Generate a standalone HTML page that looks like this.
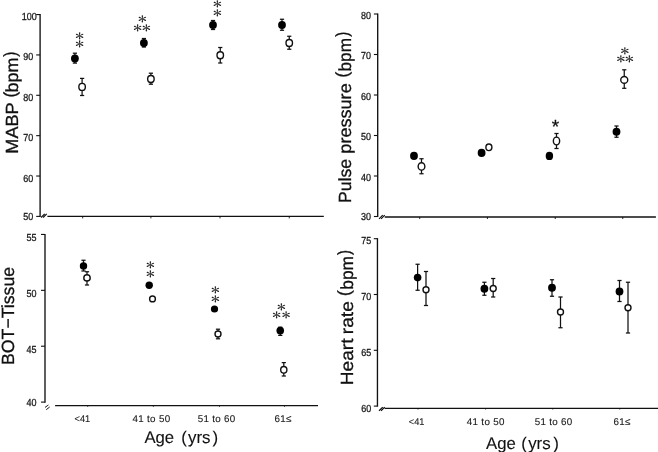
<!DOCTYPE html>
<html><head><meta charset="utf-8"><title>Figure</title>
<style>
html,body{margin:0;padding:0;background:#fff;}
svg{display:block}
text{text-rendering:geometricPrecision}
.t{font-family:"Liberation Sans","IPAGothic",sans-serif;fill:#111;stroke:#111;stroke-width:0.3px}
.n{font-family:"Liberation Sans","IPAGothic",sans-serif;fill:#1a1a1a;stroke:#1a1a1a;stroke-width:0.3px}
.a{font-family:"Liberation Sans","IPAGothic",sans-serif;fill:#111;stroke:#111;stroke-width:0.1px}
.x{font-family:"Liberation Sans","IPAGothic",sans-serif;fill:#1a1a1a;stroke:#1a1a1a;stroke-width:0.12px}
.s{font-family:"IPAGothic","Noto Sans CJK JP",sans-serif;fill:#222}
</style></head><body>
<svg width="658" height="452" viewBox="0 0 658 452">
<rect width="658" height="452" fill="#fff"/>
<line x1="40.10" y1="14.01" x2="40.10" y2="216.95" stroke="#111" stroke-width="1.35" stroke-linecap="butt"/>
<line x1="36.20" y1="14.56" x2="40.10" y2="14.56" stroke="#111" stroke-width="1.1" stroke-linecap="butt"/>
<text x="21.80" y="20.10" font-size="10.2" class="n" textLength="15.00" lengthAdjust="spacingAndGlyphs">100</text>
<line x1="36.20" y1="54.93" x2="40.10" y2="54.93" stroke="#111" stroke-width="1.1" stroke-linecap="butt"/>
<text x="23.30" y="60.05" font-size="10.2" class="n" textLength="10.00" lengthAdjust="spacingAndGlyphs">90</text>
<line x1="36.20" y1="95.30" x2="40.10" y2="95.30" stroke="#111" stroke-width="1.1" stroke-linecap="butt"/>
<text x="23.30" y="101.35" font-size="10.2" class="n" textLength="10.00" lengthAdjust="spacingAndGlyphs">80</text>
<line x1="36.20" y1="135.66" x2="40.10" y2="135.66" stroke="#111" stroke-width="1.1" stroke-linecap="butt"/>
<text x="23.30" y="141.25" font-size="10.2" class="n" textLength="10.00" lengthAdjust="spacingAndGlyphs">70</text>
<line x1="36.20" y1="176.03" x2="40.10" y2="176.03" stroke="#111" stroke-width="1.1" stroke-linecap="butt"/>
<text x="23.30" y="182.15" font-size="10.2" class="n" textLength="10.00" lengthAdjust="spacingAndGlyphs">60</text>
<line x1="36.20" y1="216.40" x2="40.10" y2="216.40" stroke="#111" stroke-width="1.1" stroke-linecap="butt"/>
<text x="23.30" y="219.65" font-size="10.2" class="n" textLength="10.00" lengthAdjust="spacingAndGlyphs">50</text>
<line x1="47.40" y1="216.40" x2="323.80" y2="216.40" stroke="#111" stroke-width="1.35" stroke-linecap="butt"/>
<line x1="82.70" y1="216.40" x2="82.70" y2="218.40" stroke="#111" stroke-width="0.9" stroke-linecap="butt"/>
<line x1="150.90" y1="216.40" x2="150.90" y2="218.40" stroke="#111" stroke-width="0.9" stroke-linecap="butt"/>
<line x1="220.00" y1="216.40" x2="220.00" y2="218.40" stroke="#111" stroke-width="0.9" stroke-linecap="butt"/>
<line x1="289.25" y1="216.40" x2="289.25" y2="218.40" stroke="#111" stroke-width="0.9" stroke-linecap="butt"/>
<line x1="41.06" y1="217.54" x2="44.74" y2="213.86" stroke="#111" stroke-width="1.2" stroke-linecap="butt"/>
<line x1="43.06" y1="217.54" x2="46.74" y2="213.86" stroke="#111" stroke-width="1.2" stroke-linecap="butt"/>
<line x1="74.90" y1="53.20" x2="74.90" y2="63.10" stroke="#111" stroke-width="1.25" stroke-linecap="butt"/>
<line x1="72.80" y1="53.20" x2="77.00" y2="53.20" stroke="#111" stroke-width="1.25" stroke-linecap="butt"/>
<line x1="72.80" y1="63.10" x2="77.00" y2="63.10" stroke="#111" stroke-width="1.25" stroke-linecap="butt"/>
<ellipse cx="74.90" cy="58.50" rx="3.9" ry="4.05" fill="#000"/>
<line x1="82.10" y1="78.40" x2="82.10" y2="95.50" stroke="#111" stroke-width="1.25" stroke-linecap="butt"/>
<line x1="80.00" y1="78.40" x2="84.20" y2="78.40" stroke="#111" stroke-width="1.25" stroke-linecap="butt"/>
<line x1="80.00" y1="95.50" x2="84.20" y2="95.50" stroke="#111" stroke-width="1.25" stroke-linecap="butt"/>
<ellipse cx="82.10" cy="86.90" rx="3.25" ry="3.5" fill="#fff" stroke="#111" stroke-width="1.4"/>
<text transform="translate(79.70,36.25) scale(1.16,1)" font-size="11.0" text-anchor="middle" dominant-baseline="central" class="s">＊</text>
<text transform="translate(79.70,44.95) scale(1.16,1)" font-size="11.0" text-anchor="middle" dominant-baseline="central" class="s">＊</text>
<line x1="143.90" y1="38.50" x2="143.90" y2="47.00" stroke="#111" stroke-width="1.25" stroke-linecap="butt"/>
<line x1="141.80" y1="38.50" x2="146.00" y2="38.50" stroke="#111" stroke-width="1.25" stroke-linecap="butt"/>
<line x1="141.80" y1="47.00" x2="146.00" y2="47.00" stroke="#111" stroke-width="1.25" stroke-linecap="butt"/>
<ellipse cx="143.90" cy="43.10" rx="3.9" ry="4.05" fill="#000"/>
<line x1="150.90" y1="73.20" x2="150.90" y2="84.20" stroke="#111" stroke-width="1.25" stroke-linecap="butt"/>
<line x1="148.80" y1="73.20" x2="153.00" y2="73.20" stroke="#111" stroke-width="1.25" stroke-linecap="butt"/>
<line x1="148.80" y1="84.20" x2="153.00" y2="84.20" stroke="#111" stroke-width="1.25" stroke-linecap="butt"/>
<ellipse cx="150.90" cy="79.00" rx="3.25" ry="3.5" fill="#fff" stroke="#111" stroke-width="1.4"/>
<text transform="translate(142.30,19.75) scale(1.16,1)" font-size="11.0" text-anchor="middle" dominant-baseline="central" class="s">＊</text>
<text transform="translate(137.70,28.05) scale(1.16,1)" font-size="11.0" text-anchor="middle" dominant-baseline="central" class="s">＊</text>
<text transform="translate(146.50,28.05) scale(1.16,1)" font-size="11.0" text-anchor="middle" dominant-baseline="central" class="s">＊</text>
<line x1="213.00" y1="20.50" x2="213.00" y2="29.50" stroke="#111" stroke-width="1.25" stroke-linecap="butt"/>
<line x1="210.90" y1="20.50" x2="215.10" y2="20.50" stroke="#111" stroke-width="1.25" stroke-linecap="butt"/>
<line x1="210.90" y1="29.50" x2="215.10" y2="29.50" stroke="#111" stroke-width="1.25" stroke-linecap="butt"/>
<ellipse cx="213.00" cy="25.00" rx="3.9" ry="4.05" fill="#000"/>
<line x1="220.25" y1="47.50" x2="220.25" y2="63.00" stroke="#111" stroke-width="1.25" stroke-linecap="butt"/>
<line x1="218.15" y1="47.50" x2="222.35" y2="47.50" stroke="#111" stroke-width="1.25" stroke-linecap="butt"/>
<line x1="218.15" y1="63.00" x2="222.35" y2="63.00" stroke="#111" stroke-width="1.25" stroke-linecap="butt"/>
<ellipse cx="220.25" cy="55.25" rx="3.25" ry="3.5" fill="#fff" stroke="#111" stroke-width="1.4"/>
<text transform="translate(217.40,4.40) scale(1.16,1)" font-size="11.0" text-anchor="middle" dominant-baseline="central" class="s">＊</text>
<text transform="translate(217.40,13.35) scale(1.16,1)" font-size="11.0" text-anchor="middle" dominant-baseline="central" class="s">＊</text>
<line x1="282.00" y1="19.25" x2="282.00" y2="30.25" stroke="#111" stroke-width="1.25" stroke-linecap="butt"/>
<line x1="279.90" y1="19.25" x2="284.10" y2="19.25" stroke="#111" stroke-width="1.25" stroke-linecap="butt"/>
<line x1="279.90" y1="30.25" x2="284.10" y2="30.25" stroke="#111" stroke-width="1.25" stroke-linecap="butt"/>
<ellipse cx="282.00" cy="25.00" rx="3.9" ry="4.05" fill="#000"/>
<line x1="289.25" y1="36.25" x2="289.25" y2="49.25" stroke="#111" stroke-width="1.25" stroke-linecap="butt"/>
<line x1="287.15" y1="36.25" x2="291.35" y2="36.25" stroke="#111" stroke-width="1.25" stroke-linecap="butt"/>
<line x1="287.15" y1="49.25" x2="291.35" y2="49.25" stroke="#111" stroke-width="1.25" stroke-linecap="butt"/>
<ellipse cx="289.25" cy="43.00" rx="3.25" ry="3.5" fill="#fff" stroke="#111" stroke-width="1.4"/>
<line x1="377.70" y1="13.45" x2="377.70" y2="217.05" stroke="#111" stroke-width="1.35" stroke-linecap="butt"/>
<line x1="373.90" y1="14.00" x2="377.70" y2="14.00" stroke="#111" stroke-width="1.1" stroke-linecap="butt"/>
<text x="361.00" y="19.05" font-size="10.2" class="n" textLength="10.00" lengthAdjust="spacingAndGlyphs">80</text>
<line x1="373.90" y1="54.50" x2="377.70" y2="54.50" stroke="#111" stroke-width="1.1" stroke-linecap="butt"/>
<text x="361.00" y="59.05" font-size="10.2" class="n" textLength="10.00" lengthAdjust="spacingAndGlyphs">70</text>
<line x1="373.90" y1="95.00" x2="377.70" y2="95.00" stroke="#111" stroke-width="1.1" stroke-linecap="butt"/>
<text x="361.00" y="99.95" font-size="10.2" class="n" textLength="10.00" lengthAdjust="spacingAndGlyphs">60</text>
<line x1="373.90" y1="135.50" x2="377.70" y2="135.50" stroke="#111" stroke-width="1.1" stroke-linecap="butt"/>
<text x="361.00" y="140.15" font-size="10.2" class="n" textLength="10.00" lengthAdjust="spacingAndGlyphs">50</text>
<line x1="373.90" y1="176.00" x2="377.70" y2="176.00" stroke="#111" stroke-width="1.1" stroke-linecap="butt"/>
<text x="361.00" y="181.05" font-size="10.2" class="n" textLength="10.00" lengthAdjust="spacingAndGlyphs">40</text>
<line x1="373.90" y1="216.50" x2="377.70" y2="216.50" stroke="#111" stroke-width="1.1" stroke-linecap="butt"/>
<text x="361.00" y="219.50" font-size="10.2" class="n" textLength="10.00" lengthAdjust="spacingAndGlyphs">30</text>
<line x1="384.70" y1="217.00" x2="655.90" y2="217.00" stroke="#111" stroke-width="1.35" stroke-linecap="butt"/>
<line x1="419.70" y1="217.00" x2="419.70" y2="219.00" stroke="#111" stroke-width="0.9" stroke-linecap="butt"/>
<line x1="487.40" y1="217.00" x2="487.40" y2="219.00" stroke="#111" stroke-width="0.9" stroke-linecap="butt"/>
<line x1="555.25" y1="217.00" x2="555.25" y2="219.00" stroke="#111" stroke-width="0.9" stroke-linecap="butt"/>
<line x1="622.75" y1="217.00" x2="622.75" y2="219.00" stroke="#111" stroke-width="0.9" stroke-linecap="butt"/>
<line x1="379.06" y1="218.84" x2="382.74" y2="215.16" stroke="#111" stroke-width="1.2" stroke-linecap="butt"/>
<line x1="381.06" y1="218.84" x2="384.74" y2="215.16" stroke="#111" stroke-width="1.2" stroke-linecap="butt"/>
<ellipse cx="414.00" cy="155.90" rx="3.9" ry="4.05" fill="#000"/>
<line x1="421.50" y1="158.75" x2="421.50" y2="173.75" stroke="#111" stroke-width="1.25" stroke-linecap="butt"/>
<line x1="419.40" y1="158.75" x2="423.60" y2="158.75" stroke="#111" stroke-width="1.25" stroke-linecap="butt"/>
<line x1="419.40" y1="173.75" x2="423.60" y2="173.75" stroke="#111" stroke-width="1.25" stroke-linecap="butt"/>
<ellipse cx="421.50" cy="166.40" rx="3.35" ry="3.7" fill="#fff" stroke="#111" stroke-width="1.4"/>
<ellipse cx="481.60" cy="152.90" rx="3.9" ry="4.05" fill="#000"/>
<ellipse cx="488.90" cy="147.30" rx="3.0" ry="3.3" fill="#fff" stroke="#111" stroke-width="1.4"/>
<ellipse cx="549.40" cy="155.90" rx="3.7" ry="4.2" fill="#000"/>
<line x1="556.50" y1="133.50" x2="556.50" y2="148.50" stroke="#111" stroke-width="1.25" stroke-linecap="butt"/>
<line x1="554.40" y1="133.50" x2="558.60" y2="133.50" stroke="#111" stroke-width="1.25" stroke-linecap="butt"/>
<line x1="554.40" y1="148.50" x2="558.60" y2="148.50" stroke="#111" stroke-width="1.25" stroke-linecap="butt"/>
<ellipse cx="556.50" cy="141.00" rx="3.15" ry="3.85" fill="#fff" stroke="#111" stroke-width="1.4"/>
<text x="555.50" y="133.20" font-size="19" text-anchor="middle" class="t" >*</text>
<line x1="616.50" y1="126.00" x2="616.50" y2="137.25" stroke="#111" stroke-width="1.25" stroke-linecap="butt"/>
<line x1="614.40" y1="126.00" x2="618.60" y2="126.00" stroke="#111" stroke-width="1.25" stroke-linecap="butt"/>
<line x1="614.40" y1="137.25" x2="618.60" y2="137.25" stroke="#111" stroke-width="1.25" stroke-linecap="butt"/>
<ellipse cx="616.50" cy="131.75" rx="3.9" ry="4.05" fill="#000"/>
<line x1="624.25" y1="69.80" x2="624.25" y2="88.30" stroke="#111" stroke-width="1.25" stroke-linecap="butt"/>
<line x1="622.15" y1="69.80" x2="626.35" y2="69.80" stroke="#111" stroke-width="1.25" stroke-linecap="butt"/>
<line x1="622.15" y1="88.30" x2="626.35" y2="88.30" stroke="#111" stroke-width="1.25" stroke-linecap="butt"/>
<ellipse cx="624.25" cy="79.90" rx="3.5" ry="3.4" fill="#fff" stroke="#111" stroke-width="1.4"/>
<text transform="translate(625.00,51.15) scale(1.16,1)" font-size="11.0" text-anchor="middle" dominant-baseline="central" class="s">＊</text>
<text transform="translate(621.00,59.75) scale(1.16,1)" font-size="11.0" text-anchor="middle" dominant-baseline="central" class="s">＊</text>
<text transform="translate(629.50,59.75) scale(1.16,1)" font-size="11.0" text-anchor="middle" dominant-baseline="central" class="s">＊</text>
<line x1="45.00" y1="233.89" x2="45.00" y2="402.65" stroke="#111" stroke-width="1.35" stroke-linecap="butt"/>
<line x1="41.00" y1="234.44" x2="45.00" y2="234.44" stroke="#111" stroke-width="1.1" stroke-linecap="butt"/>
<text x="26.50" y="240.60" font-size="10.2" class="n" textLength="10.00" lengthAdjust="spacingAndGlyphs">55</text>
<line x1="41.00" y1="290.33" x2="45.00" y2="290.33" stroke="#111" stroke-width="1.1" stroke-linecap="butt"/>
<text x="26.50" y="297.15" font-size="10.2" class="n" textLength="10.00" lengthAdjust="spacingAndGlyphs">50</text>
<line x1="41.00" y1="346.21" x2="45.00" y2="346.21" stroke="#111" stroke-width="1.1" stroke-linecap="butt"/>
<text x="26.50" y="353.05" font-size="10.2" class="n" textLength="10.00" lengthAdjust="spacingAndGlyphs">45</text>
<line x1="41.00" y1="402.10" x2="45.00" y2="402.10" stroke="#111" stroke-width="1.1" stroke-linecap="butt"/>
<text x="26.50" y="405.85" font-size="10.2" class="n" textLength="10.00" lengthAdjust="spacingAndGlyphs">40</text>
<line x1="55.10" y1="405.55" x2="318.00" y2="405.55" stroke="#111" stroke-width="1.35" stroke-linecap="butt"/>
<line x1="87.70" y1="405.55" x2="87.70" y2="406.75" stroke="#111" stroke-width="0.9" stroke-linecap="butt"/>
<line x1="153.40" y1="405.55" x2="153.40" y2="406.75" stroke="#111" stroke-width="0.9" stroke-linecap="butt"/>
<line x1="219.50" y1="405.55" x2="219.50" y2="406.75" stroke="#111" stroke-width="0.9" stroke-linecap="butt"/>
<line x1="284.50" y1="405.55" x2="284.50" y2="406.75" stroke="#111" stroke-width="0.9" stroke-linecap="butt"/>
<line x1="45.00" y1="407.40" x2="48.40" y2="405.00" stroke="#111" stroke-width="0.95" stroke-linecap="butt"/>
<line x1="46.20" y1="409.70" x2="49.70" y2="407.00" stroke="#111" stroke-width="0.95" stroke-linecap="butt"/>
<line x1="83.50" y1="260.25" x2="83.50" y2="271.00" stroke="#111" stroke-width="1.25" stroke-linecap="butt"/>
<line x1="81.40" y1="260.25" x2="85.60" y2="260.25" stroke="#111" stroke-width="1.25" stroke-linecap="butt"/>
<line x1="81.40" y1="271.00" x2="85.60" y2="271.00" stroke="#111" stroke-width="1.25" stroke-linecap="butt"/>
<ellipse cx="83.50" cy="266.10" rx="3.7" ry="3.75" fill="#000"/>
<line x1="87.00" y1="271.75" x2="87.00" y2="285.00" stroke="#111" stroke-width="1.25" stroke-linecap="butt"/>
<line x1="84.90" y1="271.75" x2="89.10" y2="271.75" stroke="#111" stroke-width="1.25" stroke-linecap="butt"/>
<line x1="84.90" y1="285.00" x2="89.10" y2="285.00" stroke="#111" stroke-width="1.25" stroke-linecap="butt"/>
<ellipse cx="87.00" cy="277.90" rx="3.2" ry="3.1" fill="#fff" stroke="#111" stroke-width="1.4"/>
<ellipse cx="149.20" cy="285.20" rx="3.7" ry="3.7" fill="#000"/>
<ellipse cx="152.50" cy="298.90" rx="2.9" ry="2.9" fill="#fff" stroke="#111" stroke-width="1.4"/>
<text transform="translate(150.50,265.25) scale(1.16,1)" font-size="11.0" text-anchor="middle" dominant-baseline="central" class="s">＊</text>
<text transform="translate(150.50,274.25) scale(1.16,1)" font-size="11.0" text-anchor="middle" dominant-baseline="central" class="s">＊</text>
<ellipse cx="214.50" cy="309.00" rx="3.6" ry="3.6" fill="#000"/>
<line x1="218.00" y1="329.20" x2="218.00" y2="338.80" stroke="#111" stroke-width="1.25" stroke-linecap="butt"/>
<line x1="215.90" y1="329.20" x2="220.10" y2="329.20" stroke="#111" stroke-width="1.25" stroke-linecap="butt"/>
<line x1="215.90" y1="338.80" x2="220.10" y2="338.80" stroke="#111" stroke-width="1.25" stroke-linecap="butt"/>
<ellipse cx="218.00" cy="334.00" rx="3.0" ry="3.0" fill="#fff" stroke="#111" stroke-width="1.4"/>
<text transform="translate(215.40,290.45) scale(1.16,1)" font-size="11.0" text-anchor="middle" dominant-baseline="central" class="s">＊</text>
<text transform="translate(215.40,299.45) scale(1.16,1)" font-size="11.0" text-anchor="middle" dominant-baseline="central" class="s">＊</text>
<line x1="280.25" y1="327.20" x2="280.25" y2="335.40" stroke="#111" stroke-width="1.25" stroke-linecap="butt"/>
<line x1="278.15" y1="327.20" x2="282.35" y2="327.20" stroke="#111" stroke-width="1.25" stroke-linecap="butt"/>
<line x1="278.15" y1="335.40" x2="282.35" y2="335.40" stroke="#111" stroke-width="1.25" stroke-linecap="butt"/>
<ellipse cx="280.25" cy="330.60" rx="3.8" ry="3.9" fill="#000"/>
<line x1="283.80" y1="362.60" x2="283.80" y2="376.00" stroke="#111" stroke-width="1.25" stroke-linecap="butt"/>
<line x1="281.70" y1="362.60" x2="285.90" y2="362.60" stroke="#111" stroke-width="1.25" stroke-linecap="butt"/>
<line x1="281.70" y1="376.00" x2="285.90" y2="376.00" stroke="#111" stroke-width="1.25" stroke-linecap="butt"/>
<ellipse cx="283.80" cy="369.80" rx="3.1" ry="3.3" fill="#fff" stroke="#111" stroke-width="1.4"/>
<text transform="translate(281.40,307.20) scale(1.16,1)" font-size="11.0" text-anchor="middle" dominant-baseline="central" class="s">＊</text>
<text transform="translate(276.65,315.70) scale(1.16,1)" font-size="11.0" text-anchor="middle" dominant-baseline="central" class="s">＊</text>
<text transform="translate(286.15,315.70) scale(1.16,1)" font-size="11.0" text-anchor="middle" dominant-baseline="central" class="s">＊</text>
<text transform="translate(74.55,422.00) scale(1,1)" font-size="9.8" class="x" textLength="15.7" lengthAdjust="spacingAndGlyphs">&lt;41</text>
<text transform="translate(132.50,422.00) scale(1,1)" font-size="9.8" class="x" textLength="37.6" lengthAdjust="spacing">41 to 50</text>
<text transform="translate(197.70,422.00) scale(1,1)" font-size="9.8" class="x" textLength="37.4" lengthAdjust="spacing">51 to 60</text>
<text transform="translate(274.50,422.00) scale(1,1)" font-size="9.8" class="x" textLength="17" lengthAdjust="spacing">61≤</text>
<text x="144.40" y="442.60" font-size="16.9" class="a"><tspan textLength="29.8" lengthAdjust="spacingAndGlyphs">Age</tspan> <tspan x="181.15">(</tspan><tspan dx="1.2">yrs</tspan><tspan dx="1.95">)</tspan></text>
<line x1="377.45" y1="238.15" x2="377.45" y2="406.65" stroke="#111" stroke-width="1.35" stroke-linecap="butt"/>
<line x1="373.80" y1="238.70" x2="377.45" y2="238.70" stroke="#111" stroke-width="1.1" stroke-linecap="butt"/>
<text x="361.20" y="244.00" font-size="10.2" class="n" textLength="10.00" lengthAdjust="spacingAndGlyphs">75</text>
<line x1="373.80" y1="294.50" x2="377.45" y2="294.50" stroke="#111" stroke-width="1.1" stroke-linecap="butt"/>
<text x="361.20" y="299.75" font-size="10.2" class="n" textLength="10.00" lengthAdjust="spacingAndGlyphs">70</text>
<line x1="373.80" y1="350.30" x2="377.45" y2="350.30" stroke="#111" stroke-width="1.1" stroke-linecap="butt"/>
<text x="361.20" y="355.65" font-size="10.2" class="n" textLength="10.00" lengthAdjust="spacingAndGlyphs">65</text>
<line x1="373.80" y1="406.10" x2="377.45" y2="406.10" stroke="#111" stroke-width="1.1" stroke-linecap="butt"/>
<text x="361.20" y="411.65" font-size="10.2" class="n" textLength="10.00" lengthAdjust="spacingAndGlyphs">60</text>
<line x1="384.60" y1="408.30" x2="658.00" y2="408.30" stroke="#111" stroke-width="1.35" stroke-linecap="butt"/>
<line x1="418.00" y1="408.30" x2="418.00" y2="409.50" stroke="#111" stroke-width="0.9" stroke-linecap="butt"/>
<line x1="485.60" y1="408.30" x2="485.60" y2="409.50" stroke="#111" stroke-width="0.9" stroke-linecap="butt"/>
<line x1="552.75" y1="408.30" x2="552.75" y2="409.50" stroke="#111" stroke-width="0.9" stroke-linecap="butt"/>
<line x1="619.75" y1="408.30" x2="619.75" y2="409.50" stroke="#111" stroke-width="0.9" stroke-linecap="butt"/>
<line x1="379.06" y1="410.74" x2="382.74" y2="407.06" stroke="#111" stroke-width="1.2" stroke-linecap="butt"/>
<line x1="381.06" y1="410.74" x2="384.74" y2="407.06" stroke="#111" stroke-width="1.2" stroke-linecap="butt"/>
<line x1="417.60" y1="264.25" x2="417.60" y2="290.25" stroke="#111" stroke-width="1.25" stroke-linecap="butt"/>
<line x1="415.50" y1="264.25" x2="419.70" y2="264.25" stroke="#111" stroke-width="1.25" stroke-linecap="butt"/>
<line x1="415.50" y1="290.25" x2="419.70" y2="290.25" stroke="#111" stroke-width="1.25" stroke-linecap="butt"/>
<ellipse cx="417.60" cy="277.60" rx="3.8" ry="3.8" fill="#000"/>
<line x1="426.00" y1="271.50" x2="426.00" y2="305.50" stroke="#111" stroke-width="1.25" stroke-linecap="butt"/>
<line x1="423.90" y1="271.50" x2="428.10" y2="271.50" stroke="#111" stroke-width="1.25" stroke-linecap="butt"/>
<line x1="423.90" y1="305.50" x2="428.10" y2="305.50" stroke="#111" stroke-width="1.25" stroke-linecap="butt"/>
<ellipse cx="426.00" cy="289.70" rx="3.0" ry="3.0" fill="#fff" stroke="#111" stroke-width="1.4"/>
<line x1="484.40" y1="282.25" x2="484.40" y2="295.25" stroke="#111" stroke-width="1.25" stroke-linecap="butt"/>
<line x1="482.30" y1="282.25" x2="486.50" y2="282.25" stroke="#111" stroke-width="1.25" stroke-linecap="butt"/>
<line x1="482.30" y1="295.25" x2="486.50" y2="295.25" stroke="#111" stroke-width="1.25" stroke-linecap="butt"/>
<ellipse cx="484.40" cy="288.70" rx="3.9" ry="4.05" fill="#000"/>
<line x1="493.20" y1="278.50" x2="493.20" y2="297.00" stroke="#111" stroke-width="1.25" stroke-linecap="butt"/>
<line x1="491.10" y1="278.50" x2="495.30" y2="278.50" stroke="#111" stroke-width="1.25" stroke-linecap="butt"/>
<line x1="491.10" y1="297.00" x2="495.30" y2="297.00" stroke="#111" stroke-width="1.25" stroke-linecap="butt"/>
<ellipse cx="493.20" cy="288.50" rx="3.0" ry="3.0" fill="#fff" stroke="#111" stroke-width="1.4"/>
<line x1="552.00" y1="279.75" x2="552.00" y2="296.25" stroke="#111" stroke-width="1.25" stroke-linecap="butt"/>
<line x1="549.90" y1="279.75" x2="554.10" y2="279.75" stroke="#111" stroke-width="1.25" stroke-linecap="butt"/>
<line x1="549.90" y1="296.25" x2="554.10" y2="296.25" stroke="#111" stroke-width="1.25" stroke-linecap="butt"/>
<ellipse cx="552.00" cy="287.75" rx="3.9" ry="4.05" fill="#000"/>
<line x1="560.50" y1="297.00" x2="560.50" y2="327.75" stroke="#111" stroke-width="1.25" stroke-linecap="butt"/>
<line x1="558.40" y1="297.00" x2="562.60" y2="297.00" stroke="#111" stroke-width="1.25" stroke-linecap="butt"/>
<line x1="558.40" y1="327.75" x2="562.60" y2="327.75" stroke="#111" stroke-width="1.25" stroke-linecap="butt"/>
<ellipse cx="560.50" cy="312.00" rx="3.0" ry="3.0" fill="#fff" stroke="#111" stroke-width="1.4"/>
<line x1="619.50" y1="280.50" x2="619.50" y2="301.50" stroke="#111" stroke-width="1.25" stroke-linecap="butt"/>
<line x1="617.40" y1="280.50" x2="621.60" y2="280.50" stroke="#111" stroke-width="1.25" stroke-linecap="butt"/>
<line x1="617.40" y1="301.50" x2="621.60" y2="301.50" stroke="#111" stroke-width="1.25" stroke-linecap="butt"/>
<ellipse cx="619.50" cy="291.50" rx="3.9" ry="4.05" fill="#000"/>
<line x1="628.00" y1="282.25" x2="628.00" y2="333.00" stroke="#111" stroke-width="1.25" stroke-linecap="butt"/>
<line x1="625.90" y1="282.25" x2="630.10" y2="282.25" stroke="#111" stroke-width="1.25" stroke-linecap="butt"/>
<line x1="625.90" y1="333.00" x2="630.10" y2="333.00" stroke="#111" stroke-width="1.25" stroke-linecap="butt"/>
<ellipse cx="628.00" cy="307.75" rx="3.0" ry="3.0" fill="#fff" stroke="#111" stroke-width="1.4"/>
<text transform="translate(408.75,424.70) scale(1,1)" font-size="9.8" class="x" textLength="15.7" lengthAdjust="spacingAndGlyphs">&lt;41</text>
<text transform="translate(466.80,424.70) scale(1,1)" font-size="9.8" class="x" textLength="37.6" lengthAdjust="spacing">41 to 50</text>
<text transform="translate(534.70,424.70) scale(1,1)" font-size="9.8" class="x" textLength="37.4" lengthAdjust="spacing">51 to 60</text>
<text transform="translate(613.40,424.70) scale(1,1)" font-size="9.8" class="x" textLength="17" lengthAdjust="spacing">61≤</text>
<text x="486.05" y="449.00" font-size="16.9" class="a"><tspan textLength="29.8" lengthAdjust="spacingAndGlyphs">Age</tspan> <tspan x="521.35">(</tspan><tspan dx="1.2">yrs</tspan><tspan dx="2.6">)</tspan></text>
<text font-size="17.6" class="t" transform="translate(18.10,152.20) rotate(-90)"><tspan x="-1.48" textLength="51.03" lengthAdjust="spacingAndGlyphs">MABP</tspan> <tspan x="54.62" dy="-2.3" textLength="5.78" lengthAdjust="spacingAndGlyphs">(</tspan><tspan x="59.75" dy="2.3" textLength="34.73" lengthAdjust="spacingAndGlyphs">bpm</tspan><tspan x="95.36" dy="-2.3" textLength="5.21" lengthAdjust="spacingAndGlyphs">)</tspan></text>
<text font-size="17.6" class="t" transform="translate(350.60,201.60) rotate(-90)"><tspan x="-1.45" textLength="44.24" lengthAdjust="spacingAndGlyphs">Pulse</tspan> <tspan x="47.93" textLength="70.37" lengthAdjust="spacingAndGlyphs">pressure</tspan> <tspan x="123.78" dy="-2.3" textLength="6.03" lengthAdjust="spacingAndGlyphs">(</tspan><tspan x="130.14" dy="2.3" textLength="33.49" lengthAdjust="spacingAndGlyphs">bpm</tspan><tspan x="164.76" dy="-2.3" textLength="5.01" lengthAdjust="spacingAndGlyphs">)</tspan></text>
<text font-size="17.6" class="t" transform="translate(13.80,363.50) rotate(-90)"><tspan x="-1.44" textLength="98.02" lengthAdjust="spacingAndGlyphs">BOT−Tissue</tspan></text>
<text font-size="17.6" class="t" transform="translate(352.60,383.60) rotate(-90)"><tspan x="-1.56" textLength="46.60" lengthAdjust="spacingAndGlyphs">Heart</tspan> <tspan x="49.43" textLength="33.02" lengthAdjust="spacingAndGlyphs">rate</tspan> <tspan x="87.38" dy="-2.3" textLength="6.03" lengthAdjust="spacingAndGlyphs">(</tspan><tspan x="93.88" dy="2.3" textLength="33.76" lengthAdjust="spacingAndGlyphs">bpm</tspan><tspan x="128.51" dy="-2.3" textLength="5.02" lengthAdjust="spacingAndGlyphs">)</tspan></text>
</svg>
</body></html>
